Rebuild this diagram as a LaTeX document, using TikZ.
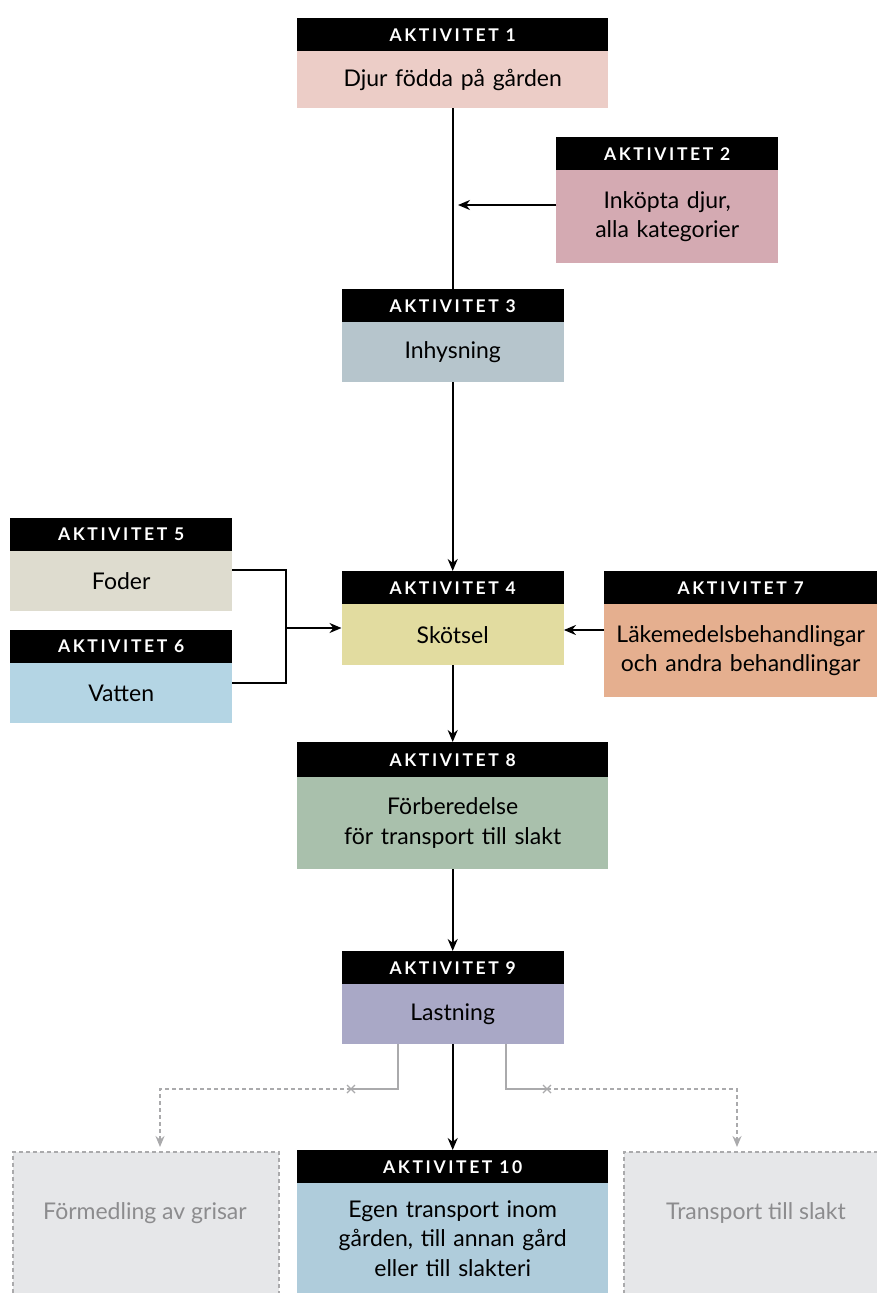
\documentclass[tikz,border=0pt]{standalone}
\usepackage{fontspec}
\setmainfont{Lato}
\newfontfamily\hdrfamily[LetterSpace=15]{Lato}
\usetikzlibrary{arrows.meta}
\definecolor{cA}{HTML}{ECCDC7}
\definecolor{cB}{HTML}{D4AAB2}
\definecolor{cC}{HTML}{B6C5CC}
\definecolor{cD}{HTML}{E2DCA0}
\definecolor{cE}{HTML}{DEDCCF}
\definecolor{cF}{HTML}{B4D5E4}
\definecolor{cG}{HTML}{E5AF8F}
\definecolor{cH}{HTML}{A9C0AC}
\definecolor{cI}{HTML}{A9A8C6}
\definecolor{cJ}{HTML}{AFCCDB}
\definecolor{greyfill}{HTML}{E6E7E9}
\definecolor{greyline}{HTML}{AAAAAC}
\definecolor{greytext}{HTML}{8C8C8E}
\tikzset{
  hdr/.style={fill=black,text=white,font=\hdrfamily\bfseries\fontsize{17.5}{19}\selectfont,
    minimum height=33pt,inner sep=0pt,anchor=north west},
  bodybox/.style={font=\fontsize{23}{29.5}\selectfont,text=black,align=center,inner sep=0pt,anchor=north west},
  greybox/.style={fill=greyfill,draw=greyline,line width=1.6pt,dash pattern=on 4pt off 3pt,anchor=north west,inner sep=0pt},
  greylabel/.style={font=\fontsize{23}{29}\selectfont,text=greytext,anchor=base},
  conn/.style={line width=2pt,black},
  arr/.style={conn,-{Stealth[length=12pt,width=10pt]}},
  gsolid/.style={line width=2pt,greyline},
  gdash/.style={line width=2pt,greyline,dash pattern=on 4pt off 3pt},
  garr/.style={gdash,-{Stealth[length=11pt,width=9pt]}},
}
\begin{document}
\begin{tikzpicture}[x=1pt,y=-1pt]
\useasboundingbox (0,0) rectangle (877,1293);
% Aktivitet 1
\node[hdr,minimum width=311pt] (h1) at (297,18) {AKTIVITET 1};
\node[bodybox,fill=cA,text width=311pt,minimum height=57pt] (b1) at (297,51) {Djur födda på gården};
% Aktivitet 2
\node[hdr,minimum width=222pt] (h2) at (556,137) {AKTIVITET 2};
\node[bodybox,fill=cB,text width=222pt,minimum height=93pt] (b2) at (556,170) {Inköpta djur,\\alla kategorier};
% Aktivitet 3
\node[hdr,minimum width=222pt] (h3) at (341.5,289) {AKTIVITET 3};
\node[bodybox,fill=cC,text width=222pt,minimum height=60pt] (b3) at (341.5,322) {Inhysning};
% Aktivitet 4
\node[hdr,minimum width=222pt] (h4) at (341.5,571) {AKTIVITET 4};
\node[bodybox,fill=cD,text width=222pt,minimum height=61pt] (b4) at (341.5,604) {Skötsel};
% Aktivitet 5
\node[hdr,minimum width=222pt] (h5) at (10,518) {AKTIVITET 5};
\node[bodybox,fill=cE,text width=222pt,minimum height=60pt] (b5) at (10,551) {Foder};
% Aktivitet 6
\node[hdr,minimum width=222pt] (h6) at (10,630) {AKTIVITET 6};
\node[bodybox,fill=cF,text width=222pt,minimum height=60pt] (b6) at (10,663) {Vatten};
% Aktivitet 7
\node[hdr,minimum width=273pt] (h7) at (604,571) {AKTIVITET 7};
\node[bodybox,fill=cG,text width=273pt,minimum height=93pt] (b7) at (604,604) {Läkemedelsbehandlingar\\och andra behandlingar};
% Aktivitet 8
\node[hdr,minimum width=311pt,minimum height=35pt] (h8) at (297,742) {AKTIVITET 8};
\node[bodybox,fill=cH,text width=311pt,minimum height=92pt] (b8) at (297,777) {Förberedelse\\för transport till slakt};
% Aktivitet 9
\node[hdr,minimum width=222pt] (h9) at (341.5,951) {AKTIVITET 9};
\node[bodybox,fill=cI,text width=222pt,minimum height=60pt] (b9) at (341.5,984) {Lastning};
% Aktivitet 10
\node[hdr,minimum width=311pt] (h10) at (297,1150) {AKTIVITET 10};
\node[bodybox,fill=cJ,text width=311pt,minimum height=110pt] (b10) at (297,1183) {Egen transport inom\\gården, till annan gård\\eller till slakteri};
% grey boxes
\node[greybox,minimum width=266pt,minimum height=143pt] (g1) at (12,1151) {};
\node[greylabel] (g1t) at (145,1219) {Förmedling av grisar};
\node[greybox,minimum width=262pt,minimum height=143pt] (g2) at (623,1151) {};
\node[greylabel] (g2t) at (756,1219) {Transport till slakt};
% connectors
\draw[conn] (b1.south) -- (h3.north);
\coordinate (t2) at (458,205);
\draw[arr] (b2.west |- t2) -- (t2);
\draw[arr] (b3.south) -- (h4.north);
\coordinate (m56) at (286,628);
\draw[conn] ([yshift=11pt]b5.east) -| (m56);
\draw[conn] ([yshift=10pt]b6.east) -| (m56);
\draw[arr] (m56) -- (b4.west |- m56);
\coordinate (t7) at (604,630);
\draw[arr] (t7) -- (b4.east |- t7);
\draw[arr] (b4.south) -- (h8.north);
\draw[arr] (b8.south) -- (h9.north);
\draw[arr] (b9.south) -- (h10.north);
% grey branches
\coordinate (xl) at (351,1089);
\coordinate (xr) at (547,1089);
\coordinate (al) at (160,1147);
\coordinate (ar) at (737,1147);
\draw[gsolid] ([xshift=-55pt]b9.south) |- (xl);
\draw[gsolid] ([xshift=53pt]b9.south) |- (xr);
\draw[garr] (xl) -| (al);
\draw[garr] (xr) -| (ar);
\draw[greyline,line width=1.3pt] ([shift={(-4pt,-4pt)}]xl) -- ([shift={(4pt,4pt)}]xl) ([shift={(-4pt,4pt)}]xl) -- ([shift={(4pt,-4pt)}]xl);
\draw[greyline,line width=1.3pt] ([shift={(-4pt,-4pt)}]xr) -- ([shift={(4pt,4pt)}]xr) ([shift={(-4pt,4pt)}]xr) -- ([shift={(4pt,-4pt)}]xr);
\end{tikzpicture}
\end{document}
